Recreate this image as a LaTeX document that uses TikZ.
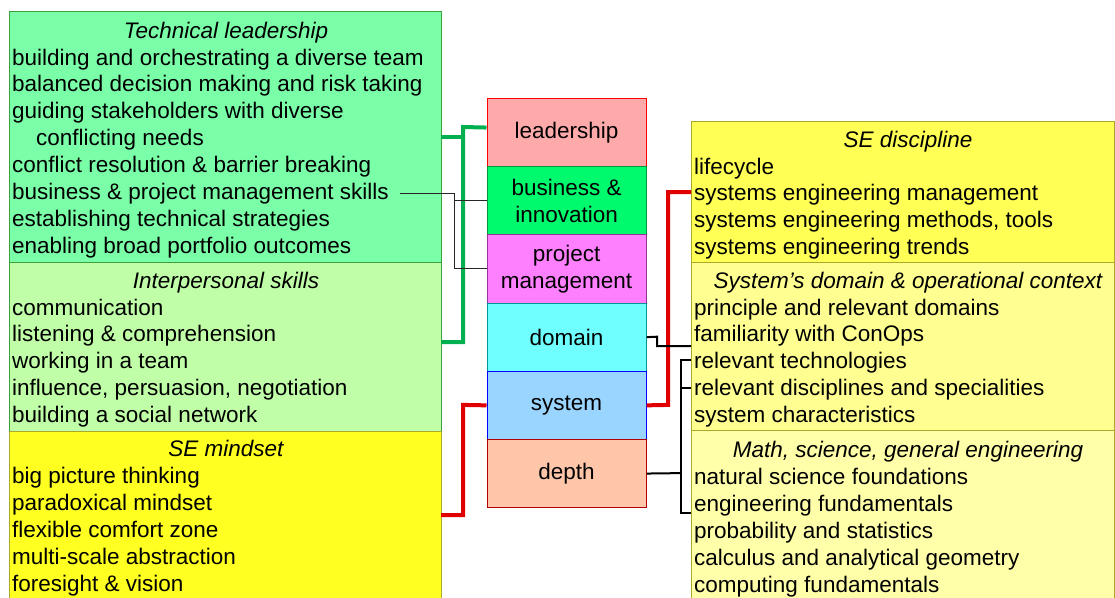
\documentclass[tikz,border=0pt]{standalone}
\usepackage{fontspec}
\setmainfont{Liberation Sans}
\definecolor{techfill}{RGB}{122,255,168}
\definecolor{interfill}{RGB}{192,255,168}
\definecolor{mindfill}{RGB}{255,255,34}
\definecolor{discfill}{RGB}{255,255,85}
\definecolor{ctxfill}{RGB}{255,255,145}
\definecolor{mathfill}{RGB}{255,255,170}
\definecolor{greenedge}{RGB}{60,160,60}
\definecolor{oliveedge}{RGB}{170,170,40}
\definecolor{leadfill}{RGB}{255,170,170}
\definecolor{bizfill}{RGB}{0,250,110}
\definecolor{projfill}{RGB}{255,128,255}
\definecolor{domfill}{RGB}{112,255,255}
\definecolor{sysfill}{RGB}{153,213,255}
\definecolor{depfill}{RGB}{255,198,170}
\definecolor{linkgreen}{RGB}{0,176,80}
\definecolor{linkred}{RGB}{225,0,0}
\begin{document}
\begin{tikzpicture}[x=1pt,y=-1pt,
  font=\fontsize{22.5}{26.9}\selectfont,
  panel/.style={draw, line width=0.9pt, rectangle, anchor=north west, inner sep=0pt},
  cell/.style={draw, line width=0.9pt, rectangle, anchor=north west, inner sep=0pt,
    minimum width=159.3pt, minimum height=68.2pt, align=center},
  item/.style={anchor=base west, inner sep=0pt},
  head/.style={anchor=base, inner sep=0pt, font=\fontsize{22.5}{26.9}\selectfont\itshape},
  gline/.style={linkgreen, line width=4pt},
  rline/.style={linkred, line width=4pt},
  kline/.style={black, line width=2pt},
  tline/.style={black!85, line width=1pt}]
\useasboundingbox (0,0) rectangle (1115,597);

% left column of panels
\node[panel, fill=techfill, draw=greenedge, minimum width=432pt, minimum height=251pt] (tech) at (9,11) {};
\node[panel, fill=interfill, draw=greenedge, minimum width=432pt, minimum height=168.7pt] (inter) at (9,262) {};
\node[panel, fill=mindfill, draw=oliveedge, minimum width=432pt, minimum height=190pt] (mind) at (9,430.7) {};

% right column of panels
\node[panel, fill=discfill, draw=oliveedge, minimum width=423pt, minimum height=141pt] (disc) at (691,121) {};
\node[panel, fill=ctxfill, draw=oliveedge, minimum width=423pt, minimum height=168pt] (ctx) at (691,262) {};
\node[panel, fill=mathfill, draw=oliveedge, minimum width=423pt, minimum height=190pt] (math) at (691,430) {};

% central stack
\node[cell, fill=leadfill, draw=red] (lead) at (486.5,98) {leadership};
\node[cell, fill=bizfill, draw={rgb,255:red,0;green,150;blue,60}] (biz) at (486.5,166.2) {business \&\\innovation};
\node[cell, fill=projfill, draw={rgb,255:red,150;green,50;blue,150}] (proj) at (486.5,234.4) {project\\management};
\node[cell, fill=domfill, draw={rgb,255:red,0;green,150;blue,150}] (dom) at (486.5,302.6) {domain};
\node[cell, fill=sysfill, draw=blue] (sys) at (486.5,370.8) {system};
\node[cell, fill=depfill, draw={rgb,255:red,180;green,0;blue,0}] (dep) at (486.5,439) {depth};

% panel headings
\node[head] (techH) at (226,38) {Technical leadership};
\node[head] (interH) at (226,288) {Interpersonal skills};
\node[head] (mindH) at (226,456) {SE mindset};
\node[head] (discH) at (908,147) {SE discipline};
\node[head] (ctxH) at (908,288) {System’s domain \& operational context};
\node[head] (mathH) at (908,457) {Math, science, general engineering};

% panel items
\foreach \t [count=\i from 0] in {building and orchestrating a diverse team,
  balanced decision making and risk taking,
  guiding stakeholders with diverse,
  \hspace{24pt}conflicting needs,
  conflict resolution \& barrier breaking,
  business \& project management skills,
  establishing technical strategies,
  enabling broad portfolio outcomes}
  \node[item] (tech\i) at (12,{65+\i*26.9}) {\t};
\foreach \t [count=\i from 0] in {communication,
  listening \& comprehension,
  working in a team,
  {influence, persuasion, negotiation},
  building a social network}
  \node[item] (inter\i) at (12,{315+\i*26.9}) {\t};
\foreach \t [count=\i from 0] in {big picture thinking,
  paradoxical mindset,
  flexible comfort zone,
  multi-scale abstraction,
  foresight \& vision}
  \node[item] (mind\i) at (12,{483+\i*27}) {\t};
\foreach \t [count=\i from 0] in {lifecycle,
  systems engineering management,
  {systems engineering methods, tools},
  systems engineering trends}
  \node[item] (disc\i) at (694,{174+\i*26.9}) {\t};
\foreach \t [count=\i from 0] in {principle and relevant domains,
  familiarity with ConOps,
  relevant technologies,
  relevant disciplines and specialities,
  system characteristics}
  \node[item] (ctx\i) at (694,{315+\i*26.9}) {\t};
\foreach \t [count=\i from 0] in {natural science foundations,
  engineering fundamentals,
  probability and statistics,
  calculus and analytical geometry,
  computing fundamentals}
  \node[item] (math\i) at (694,{484+\i*27}) {\t};

% free ends of the connectors on the panel edges
\coordinate (gA) at (441,137);
\coordinate (gB) at (441,342);
\coordinate (rA) at (441,515);
\coordinate (rB) at (691,192);
\coordinate (bs) at (400,193);
\coordinate (kA) at (691,346);
\coordinate (kB) at (691,360);
\coordinate (kC) at (691,388);
\coordinate (kD) at (691,513);

% green: leadership
\draw[gline] ([yshift=5pt]lead.west) -- (463,127) -- (463,342) -- (gB);
\draw[gline] (gA) -- (463,137);

% thin: business & project management
\draw[tline] (bs) -- (454,193) |- (proj.west);
\draw[tline] (biz.west) -- ++(-32.5,0);

% red: system
\draw[rline] (sys.west) -- (463,404.9) -- (463,515) -- (rA);
\draw[rline] (sys.east) -- (668,404.9) -- (668,192) -- (rB);

% black: domain and depth
\draw[kline] (dom.east) -- (657,336.7) -- (657,346) -- (kA);
\draw[kline] (dep.east) -- (681,473.1);
\draw[kline] (kB) -- (681,360) -- (681,513) -- (kD);
\draw[kline] (681,388) -- (kC);
\end{tikzpicture}
\end{document}
